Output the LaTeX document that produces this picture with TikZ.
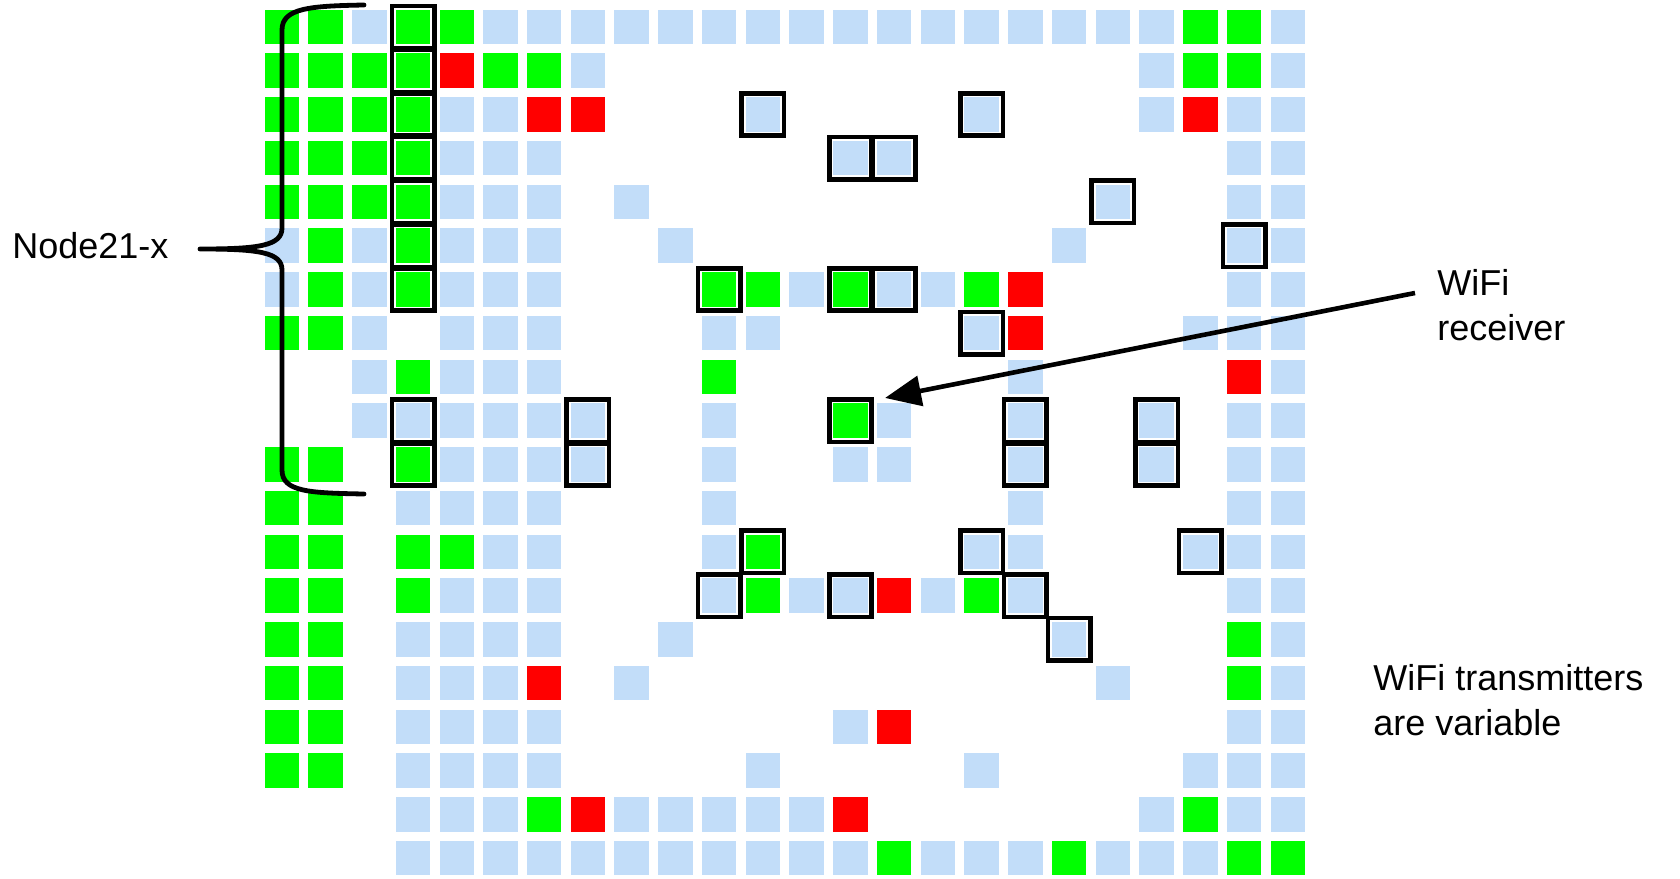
\documentclass[tikz,border=0pt]{standalone}
\usepackage{fontspec}
\setmainfont{Liberation Sans}
\usetikzlibrary{arrows.meta,calc}
\definecolor{cg}{RGB}{0,255,0}
\definecolor{cr}{RGB}{255,0,0}
\definecolor{cb}{RGB}{194,221,249}
\tikzset{
  cellbase/.style={inner sep=0pt, outer sep=0pt, minimum size=17.25pt, draw=none},
  cellG/.style={cellbase, fill=cg},
  cellR/.style={cellbase, fill=cr},
  cellB/.style={cellbase, fill=cb},
  outl/.style={inner sep=0pt, outer sep=0pt, minimum size=21.2pt, draw=black, line width=2.3pt},
  lbl/.style={inner sep=0pt, font=\fontsize{18}{22.5}\selectfont, align=left, anchor=base west},
  bracepath/.style={line width=2.4pt, line cap=round, line join=round},
  pointer/.style={line width=2.3pt, -{Triangle[length=18pt,width=15pt]}},
}
\newcommand\cellat[3]{%
  \if#3G\node[cellG] (cell-#1-#2) at ({281.8+43.74*#1},{27+43.74*#2}) {};\fi
  \if#3R\node[cellR] (cell-#1-#2) at ({281.8+43.74*#1},{27+43.74*#2}) {};\fi
  \if#3B\node[cellB] (cell-#1-#2) at ({281.8+43.74*#1},{27+43.74*#2}) {};\fi}
\newcommand\cellrow[2]{\foreach \k [count=\ci from 0] in {#2} {\cellat{\ci}{#1}{\k}}}
\begin{document}
\begin{tikzpicture}[x=0.5pt,y=-0.5pt]
\useasboundingbox (0,0) rectangle (1680,878);
\cellrow{0}{G,G,B,G,G,B,B,B,B,B,B,B,B,B,B,B,B,B,B,B,B,G,G,B}
\cellrow{1}{G,G,G,G,R,G,G,B,n,n,n,n,n,n,n,n,n,n,n,n,B,G,G,B}
\cellrow{2}{G,G,G,G,B,B,R,R,n,n,n,B,n,n,n,n,B,n,n,n,B,R,B,B}
\cellrow{3}{G,G,G,G,B,B,B,n,n,n,n,n,n,B,B,n,n,n,n,n,n,n,B,B}
\cellrow{4}{G,G,G,G,B,B,B,n,B,n,n,n,n,n,n,n,n,n,n,B,n,n,B,B}
\cellrow{5}{B,G,B,G,B,B,B,n,n,B,n,n,n,n,n,n,n,n,B,n,n,n,B,B}
\cellrow{6}{B,G,B,G,B,B,B,n,n,n,G,G,B,G,B,B,G,R,n,n,n,n,B,B}
\cellrow{7}{G,G,B,n,B,B,B,n,n,n,B,B,n,n,n,n,B,R,n,n,n,B,B,B}
\cellrow{8}{n,n,B,G,B,B,B,n,n,n,G,n,n,n,n,n,n,B,n,n,n,n,R,B}
\cellrow{9}{n,n,B,B,B,B,B,B,n,n,B,n,n,G,B,n,n,B,n,n,B,n,B,B}
\cellrow{10}{G,G,n,G,B,B,B,B,n,n,B,n,n,B,B,n,n,B,n,n,B,n,B,B}
\cellrow{11}{G,G,n,B,B,B,B,n,n,n,B,n,n,n,n,n,n,B,n,n,n,n,B,B}
\cellrow{12}{G,G,n,G,G,B,B,n,n,n,B,G,n,n,n,n,B,B,n,n,n,B,B,B}
\cellrow{13}{G,G,n,G,B,B,B,n,n,n,B,G,B,B,R,B,G,B,n,n,n,n,B,B}
\cellrow{14}{G,G,n,B,B,B,B,n,n,B,n,n,n,n,n,n,n,n,B,n,n,n,G,B}
\cellrow{15}{G,G,n,B,B,B,R,n,B,n,n,n,n,n,n,n,n,n,n,B,n,n,G,B}
\cellrow{16}{G,G,n,B,B,B,B,n,n,n,n,n,n,B,R,n,n,n,n,n,n,n,B,B}
\cellrow{17}{G,G,n,B,B,B,B,n,n,n,n,B,n,n,n,n,B,n,n,n,n,B,B,B}
\cellrow{18}{n,n,n,B,B,B,G,R,B,B,B,B,B,R,n,n,n,n,n,n,B,G,B,B}
\cellrow{19}{n,n,n,B,B,B,B,B,B,B,B,B,B,B,G,B,B,B,G,B,B,B,G,G}
\foreach \cc/\rr in {3/0,3/1,3/2,3/3,3/4,3/5,3/6,11/2,16/2,13/3,14/3,19/4,22/5,10/6,13/6,14/6,16/7,3/9,7/9,13/9,17/9,20/9,3/10,7/10,17/10,20/10,11/12,16/12,21/12,10/13,13/13,17/13,18/14}
  \node[outl] (box-\cc-\rr) at (cell-\cc-\rr) {};
% labels (base anchor = baseline of the last line)
\node[lbl] (nodelbl) at (12,258) {Node21-x};
\node[lbl] (rxlbl) at (1437,340) {WiFi\\receiver};
\node[lbl] (txlbl) at (1373,735) {WiFi transmitters\\are variable};
% brace
\draw[bracepath] (364,5) .. controls (310,6) and (282,8) .. (282,30)
  -- (282,228) .. controls (282,246) and (258,249) .. (200,249)
  .. controls (258,249) and (282,252) .. (282,270)
  -- (282,470) .. controls (282,492) and (310,493) .. (364,494);
% arrow
\coordinate (rxtail) at (1415,293);
\draw[pointer] (rxtail) -- ($(cell-13-9)+(34.6,-22.7)$);
\end{tikzpicture}
\end{document}
